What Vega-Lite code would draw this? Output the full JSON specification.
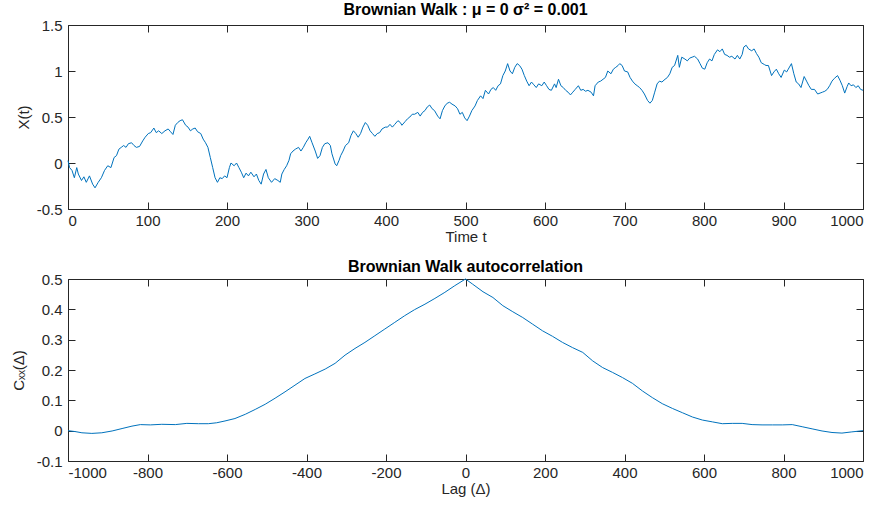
{
  "$schema": "https://vega.github.io/schema/vega-lite/v6.json",
  "background": "white",
  "padding": {"left": 10, "top": 1, "right": 0, "bottom": 0},
  "spacing": 13,
  "config": {
    "view": {"stroke": "#262626", "strokeWidth": 1},
    "font": "Liberation Sans",
    "axis": {
      "domain": false,
      "grid": false,
      "ticks": true,
      "tickSize": -7,
      "tickColor": "#262626",
      "tickWidth": 1,
      "labelFont": "Liberation Sans",
      "labelFontSize": 15,
      "labelColor": "#262626",
      "titleFont": "Liberation Sans",
      "titleFontSize": 15,
      "titleFontWeight": "normal",
      "titleColor": "#262626"
    },
    "axisX": {"labelPadding": 11, "titlePadding": 1},
    "axisY": {"labelPadding": 13},
    "title": {"font": "Liberation Sans", "fontSize": 16, "fontWeight": "bold", "color": "#000000"}
  },
  "datasets": {
    "walk": [
      {"t":0,"x":0.025},{"t":2,"x":-0.05},{"t":5,"x":-0.08},{"t":8,"x":-0.16},{"t":11,"x":-0.05},{"t":13,"x":-0.12},{"t":17,"x":-0.19},{"t":20,"x":-0.15},{"t":23,"x":-0.21},{"t":27,"x":-0.14},
      {"t":31,"x":-0.23},{"t":34,"x":-0.27},{"t":38,"x":-0.21},{"t":42,"x":-0.16},{"t":46,"x":-0.08},{"t":50,"x":-0.03},{"t":54,"x":-0.05},{"t":58,"x":0.06},{"t":61,"x":0.08},{"t":64,"x":0.15},
      {"t":67,"x":0.17},{"t":70,"x":0.19},{"t":73,"x":0.17},{"t":76,"x":0.21},{"t":80,"x":0.22},{"t":83,"x":0.19},{"t":86,"x":0.17},{"t":90,"x":0.18},{"t":94,"x":0.24},{"t":97,"x":0.28},
      {"t":101,"x":0.32},{"t":104,"x":0.33},{"t":108,"x":0.38},{"t":111,"x":0.33},{"t":114,"x":0.35},{"t":118,"x":0.32},{"t":122,"x":0.35},{"t":126,"x":0.37},{"t":129,"x":0.34},{"t":132,"x":0.31},
      {"t":135,"x":0.41},{"t":138,"x":0.44},{"t":141,"x":0.46},{"t":144,"x":0.47},{"t":148,"x":0.41},{"t":151,"x":0.39},{"t":154,"x":0.35},{"t":157,"x":0.37},{"t":160,"x":0.38},{"t":163,"x":0.34},
      {"t":167,"x":0.32},{"t":170,"x":0.26},{"t":173,"x":0.22},{"t":176,"x":0.17},{"t":179,"x":0.06},{"t":182,"x":-0.05},{"t":185,"x":-0.16},{"t":188,"x":-0.21},{"t":191,"x":-0.16},{"t":194,"x":-0.17},
      {"t":197,"x":-0.14},{"t":200,"x":-0.16},{"t":203,"x":-0.05},{"t":205,"x":0.0},{"t":209,"x":-0.03},{"t":212,"x":0.0},{"t":215,"x":-0.05},{"t":218,"x":-0.10},{"t":221,"x":-0.16},{"t":224,"x":-0.11},
      {"t":227,"x":-0.14},{"t":230,"x":-0.10},{"t":234,"x":-0.15},{"t":237,"x":-0.12},{"t":240,"x":-0.19},{"t":243,"x":-0.23},{"t":246,"x":-0.12},{"t":249,"x":-0.07},{"t":252,"x":-0.16},{"t":256,"x":-0.21},
      {"t":260,"x":-0.17},{"t":264,"x":-0.19},{"t":267,"x":-0.21},{"t":269,"x":-0.12},{"t":272,"x":-0.07},{"t":275,"x":-0.03},{"t":278,"x":0.03},{"t":280,"x":0.10},{"t":283,"x":0.13},{"t":286,"x":0.15},
      {"t":290,"x":0.17},{"t":293,"x":0.13},{"t":296,"x":0.17},{"t":299,"x":0.22},{"t":302,"x":0.26},{"t":304,"x":0.29},{"t":307,"x":0.22},{"t":311,"x":0.13},{"t":314,"x":0.05},{"t":317,"x":0.08},
      {"t":320,"x":0.17},{"t":323,"x":0.21},{"t":327,"x":0.22},{"t":330,"x":0.19},{"t":332,"x":0.10},{"t":336,"x":-0.01},{"t":338,"x":-0.03},{"t":341,"x":0.03},{"t":343,"x":0.08},{"t":346,"x":0.13},
      {"t":349,"x":0.19},{"t":353,"x":0.22},{"t":356,"x":0.30},{"t":359,"x":0.35},{"t":362,"x":0.32},{"t":365,"x":0.28},{"t":368,"x":0.32},{"t":371,"x":0.39},{"t":374,"x":0.44},{"t":377,"x":0.41},
      {"t":380,"x":0.35},{"t":383,"x":0.32},{"t":386,"x":0.29},{"t":389,"x":0.32},{"t":392,"x":0.33},{"t":395,"x":0.37},{"t":399,"x":0.39},{"t":402,"x":0.39},{"t":405,"x":0.42},{"t":408,"x":0.39},
      {"t":411,"x":0.42},{"t":415,"x":0.46},{"t":418,"x":0.44},{"t":420,"x":0.41},{"t":424,"x":0.45},{"t":427,"x":0.48},{"t":430,"x":0.50},{"t":433,"x":0.53},{"t":436,"x":0.53},{"t":440,"x":0.55},
      {"t":443,"x":0.51},{"t":446,"x":0.55},{"t":449,"x":0.57},{"t":452,"x":0.61},{"t":455,"x":0.63},{"t":458,"x":0.59},{"t":461,"x":0.57},{"t":465,"x":0.51},{"t":468,"x":0.48},{"t":471,"x":0.57},
      {"t":474,"x":0.62},{"t":477,"x":0.65},{"t":480,"x":0.66},{"t":483,"x":0.64},{"t":487,"x":0.62},{"t":490,"x":0.59},{"t":493,"x":0.53},{"t":496,"x":0.55},{"t":499,"x":0.49},{"t":502,"x":0.46},
      {"t":505,"x":0.51},{"t":508,"x":0.57},{"t":512,"x":0.62},{"t":515,"x":0.68},{"t":519,"x":0.73},{"t":522,"x":0.70},{"t":525,"x":0.79},{"t":529,"x":0.75},{"t":532,"x":0.80},{"t":535,"x":0.82},
      {"t":538,"x":0.79},{"t":541,"x":0.84},{"t":544,"x":0.86},{"t":547,"x":0.95},{"t":550,"x":1.00},{"t":553,"x":1.08},{"t":556,"x":1.00},{"t":559,"x":0.97},{"t":562,"x":1.04},{"t":565,"x":1.08},
      {"t":568,"x":1.06},{"t":571,"x":1.02},{"t":574,"x":0.95},{"t":577,"x":0.89},{"t":580,"x":0.84},{"t":583,"x":0.88},{"t":586,"x":0.85},{"t":589,"x":0.82},{"t":592,"x":0.86},{"t":596,"x":0.84},
      {"t":599,"x":0.88},{"t":602,"x":0.84},{"t":605,"x":0.80},{"t":608,"x":0.79},{"t":612,"x":0.86},{"t":614,"x":0.82},{"t":617,"x":0.91},{"t":620,"x":0.84},{"t":623,"x":0.82},{"t":626,"x":0.79},
      {"t":629,"x":0.77},{"t":632,"x":0.74},{"t":635,"x":0.77},{"t":638,"x":0.80},{"t":642,"x":0.84},{"t":645,"x":0.79},{"t":648,"x":0.80},{"t":651,"x":0.78},{"t":654,"x":0.79},{"t":658,"x":0.77},
      {"t":661,"x":0.73},{"t":663,"x":0.84},{"t":667,"x":0.88},{"t":670,"x":0.89},{"t":673,"x":0.91},{"t":676,"x":0.93},{"t":679,"x":1.00},{"t":683,"x":0.97},{"t":686,"x":1.02},{"t":689,"x":1.04},
      {"t":692,"x":1.06},{"t":694,"x":1.08},{"t":697,"x":1.06},{"t":700,"x":1.00},{"t":704,"x":0.99},{"t":707,"x":0.93},{"t":710,"x":0.89},{"t":713,"x":0.86},{"t":716,"x":0.84},{"t":719,"x":0.82},
      {"t":722,"x":0.79},{"t":725,"x":0.75},{"t":729,"x":0.68},{"t":732,"x":0.65},{"t":735,"x":0.68},{"t":738,"x":0.77},{"t":741,"x":0.86},{"t":744,"x":0.89},{"t":747,"x":0.88},{"t":751,"x":0.91},
      {"t":754,"x":0.93},{"t":757,"x":0.97},{"t":760,"x":1.04},{"t":763,"x":1.06},{"t":767,"x":1.17},{"t":769,"x":1.04},{"t":772,"x":1.15},{"t":776,"x":1.13},{"t":779,"x":1.11},{"t":782,"x":1.14},
      {"t":785,"x":1.15},{"t":788,"x":1.16},{"t":792,"x":1.13},{"t":795,"x":1.08},{"t":798,"x":1.03},{"t":801,"x":1.02},{"t":804,"x":1.09},{"t":807,"x":1.13},{"t":810,"x":1.11},{"t":813,"x":1.18},
      {"t":817,"x":1.23},{"t":820,"x":1.21},{"t":823,"x":1.24},{"t":826,"x":1.18},{"t":829,"x":1.17},{"t":832,"x":1.15},{"t":835,"x":1.16},{"t":839,"x":1.13},{"t":842,"x":1.17},{"t":845,"x":1.13},
      {"t":848,"x":1.18},{"t":850,"x":1.26},{"t":853,"x":1.28},{"t":856,"x":1.24},{"t":860,"x":1.22},{"t":863,"x":1.24},{"t":866,"x":1.19},{"t":869,"x":1.15},{"t":872,"x":1.09},{"t":876,"x":1.07},
      {"t":878,"x":1.06},{"t":881,"x":1.06},{"t":885,"x":0.95},{"t":888,"x":0.99},{"t":891,"x":1.02},{"t":894,"x":0.97},{"t":897,"x":0.93},{"t":901,"x":1.01},{"t":904,"x":0.99},{"t":906,"x":1.02},
      {"t":910,"x":1.08},{"t":913,"x":0.97},{"t":916,"x":0.88},{"t":919,"x":0.86},{"t":922,"x":0.82},{"t":926,"x":0.94},{"t":929,"x":0.89},{"t":932,"x":0.84},{"t":935,"x":0.80},{"t":939,"x":0.80},
      {"t":943,"x":0.75},{"t":946,"x":0.76},{"t":949,"x":0.77},{"t":952,"x":0.78},{"t":955,"x":0.80},{"t":958,"x":0.84},{"t":961,"x":0.89},{"t":964,"x":0.92},{"t":968,"x":0.95},{"t":971,"x":0.90},
      {"t":974,"x":0.84},{"t":977,"x":0.76},{"t":980,"x":0.83},{"t":982,"x":0.87},{"t":985,"x":0.84},{"t":988,"x":0.85},{"t":991,"x":0.82},{"t":994,"x":0.84},{"t":997,"x":0.80},{"t":1000,"x":0.79}
    ],
    "acf": [
      {"lag":-1000,"c":0.0},{"lag":-982,"c":-0.003},{"lag":-965,"c":-0.007},{"lag":-940,"c":-0.009},{"lag":-915,"c":-0.007},{"lag":-889,"c":-0.001},{"lag":-864,"c":0.007},{"lag":-839,"c":0.015},
      {"lag":-818,"c":0.020},{"lag":-793,"c":0.019},{"lag":-764,"c":0.021},{"lag":-730,"c":0.020},{"lag":-701,"c":0.024},{"lag":-672,"c":0.023},{"lag":-647,"c":0.023},{"lag":-626,"c":0.026},
      {"lag":-605,"c":0.032},{"lag":-580,"c":0.040},{"lag":-554,"c":0.054},{"lag":-529,"c":0.070},{"lag":-504,"c":0.087},{"lag":-479,"c":0.107},{"lag":-454,"c":0.128},{"lag":-429,"c":0.150},
      {"lag":-404,"c":0.172},{"lag":-379,"c":0.187},{"lag":-353,"c":0.203},{"lag":-328,"c":0.222},{"lag":-303,"c":0.249},{"lag":-278,"c":0.271},{"lag":-253,"c":0.291},{"lag":-228,"c":0.313},
      {"lag":-203,"c":0.335},{"lag":-178,"c":0.357},{"lag":-153,"c":0.379},{"lag":-128,"c":0.399},{"lag":-102,"c":0.417},{"lag":-77,"c":0.436},{"lag":-52,"c":0.456},{"lag":-27,"c":0.478},
      {"lag":0,"c":0.5},{"lag":18,"c":0.483},{"lag":44,"c":0.458},{"lag":69,"c":0.439},{"lag":94,"c":0.412},{"lag":119,"c":0.392},{"lag":144,"c":0.373},{"lag":169,"c":0.351},
      {"lag":194,"c":0.329},{"lag":219,"c":0.311},{"lag":244,"c":0.291},{"lag":269,"c":0.274},{"lag":295,"c":0.258},{"lag":320,"c":0.230},{"lag":345,"c":0.208},{"lag":370,"c":0.192},
      {"lag":395,"c":0.175},{"lag":420,"c":0.156},{"lag":445,"c":0.131},{"lag":470,"c":0.109},{"lag":495,"c":0.089},{"lag":521,"c":0.073},{"lag":546,"c":0.059},{"lag":571,"c":0.045},
      {"lag":596,"c":0.035},{"lag":621,"c":0.029},{"lag":646,"c":0.023},{"lag":671,"c":0.024},{"lag":696,"c":0.024},{"lag":721,"c":0.020},{"lag":746,"c":0.019},{"lag":772,"c":0.019},
      {"lag":797,"c":0.019},{"lag":822,"c":0.020},{"lag":847,"c":0.013},{"lag":872,"c":0.006},{"lag":897,"c":-0.001},{"lag":922,"c":-0.006},{"lag":947,"c":-0.008},{"lag":972,"c":-0.004},
      {"lag":1000,"c":0.0}
    ]
  },
  "vconcat": [
    {
      "width": 795,
      "height": 184,
      "title": {"text": "Brownian Walk : μ = 0 σ² = 0.001", "offset": 0},
      "data": {"name": "walk"},
      "layer": [
        {
          "mark": {"type": "line", "color": "#0072BD", "strokeWidth": 1},
          "encoding": {
            "x": {"field": "t", "type": "quantitative", "scale": {"domain": [0, 1000], "nice": false},
                  "axis": {"orient": "bottom", "title": "Time t", "values": [0,100,200,300,400,500,600,700,800,900,1000], "labelExpr": "'' + datum.value"}},
            "y": {"field": "x", "type": "quantitative", "scale": {"domain": [-0.5, 1.5], "nice": false, "zero": false},
                  "axis": {"orient": "left", "title": "X(t)", "values": [-0.5,0,0.5,1,1.5], "labelExpr": "'' + datum.value", "titleX": -37}}
          }
        },
        {
          "mark": {"type": "line", "strokeOpacity": 0},
          "encoding": {
            "x": {"field": "t", "type": "quantitative", "axis": {"orient": "top", "title": null, "labels": false, "values": [0,100,200,300,400,500,600,700,800,900,1000]}},
            "y": {"field": "x", "type": "quantitative", "axis": {"orient": "right", "title": null, "labels": false, "values": [-0.5,0,0.5,1,1.5]}}
          }
        }
      ],
      "resolve": {"axis": {"x": "independent", "y": "independent"}}
    },
    {
      "width": 795,
      "height": 182,
      "title": {"text": "Brownian Walk autocorrelation", "offset": -3},
      "data": {"name": "acf"},
      "layer": [
        {
          "mark": {"type": "line", "color": "#0072BD", "strokeWidth": 1},
          "encoding": {
            "x": {"field": "lag", "type": "quantitative", "scale": {"domain": [-1000, 1000], "nice": false},
                  "axis": {"orient": "bottom", "title": "Lag (Δ)", "values": [-1000,-800,-600,-400,-200,0,200,400,600,800,1000], "labelExpr": "'' + datum.value"}},
            "y": {"field": "c", "type": "quantitative", "scale": {"domain": [-0.1, 0.5], "nice": false, "zero": false},
                  "axis": {"orient": "left", "title": "Cₓₓ(Δ)", "values": [-0.1,0,0.1,0.2,0.3,0.4,0.5], "labelExpr": "'' + datum.value", "titleX": -42}}
          }
        },
        {
          "mark": {"type": "line", "strokeOpacity": 0},
          "encoding": {
            "x": {"field": "lag", "type": "quantitative", "axis": {"orient": "top", "title": null, "labels": false, "values": [-1000,-800,-600,-400,-200,0,200,400,600,800,1000]}},
            "y": {"field": "c", "type": "quantitative", "axis": {"orient": "right", "title": null, "labels": false, "values": [-0.1,0,0.1,0.2,0.3,0.4,0.5]}}
          }
        }
      ],
      "resolve": {"axis": {"x": "independent", "y": "independent"}}
    }
  ]
}
